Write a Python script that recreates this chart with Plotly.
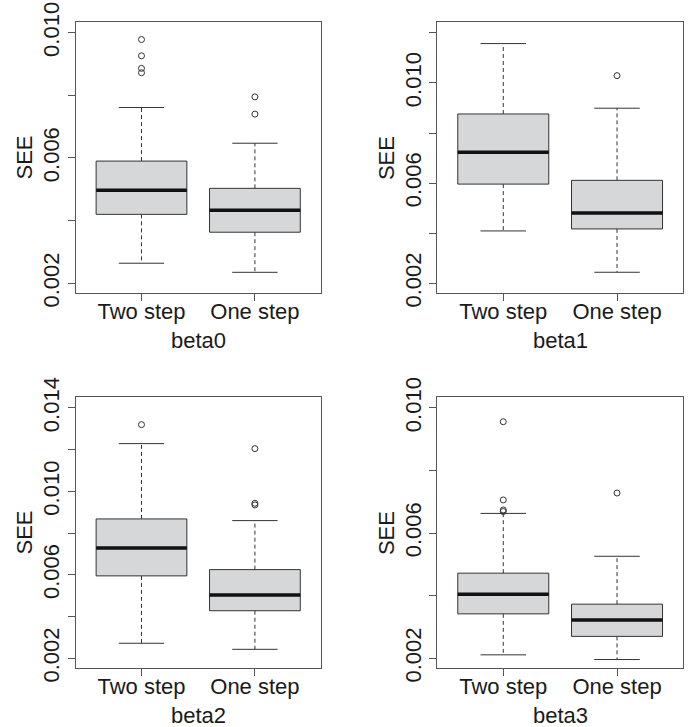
import plotly.graph_objects as go

# ---------------- data ----------------
categories = ["Two step", "One step"]
panel_labels = ["beta0", "beta1", "beta2", "beta3"]

whisker_low = [[0.00264, 0.00235], [0.00409, 0.00244], [0.00272, 0.00243], [0.00211, 0.00196]]
q1 = [[0.00420, 0.00363], [0.00596, 0.00417], [0.00595, 0.00428], [0.00342, 0.00270]]
median = [[0.00497, 0.00433], [0.00723, 0.00481], [0.00729, 0.00503], [0.00405, 0.00322]]
q3 = [[0.00590, 0.00503], [0.00876, 0.00611], [0.00868, 0.00625], [0.00472, 0.00373]]
whisker_high = [[0.00761, 0.00647], [0.01157, 0.00899], [0.01229, 0.00860], [0.00663, 0.00526]]
outliers = [
    [[0.00978, 0.00926, 0.00886, 0.00872], [0.00795, 0.00740]],
    [[], [0.01029]],
    [[0.01320], [0.01205, 0.00943, 0.00935]],
    [[0.00956, 0.00706, 0.00674, 0.00669], [0.00728]],
]
y_ranges = [[0.00168, 0.01033], [0.00160, 0.01242], [0.00152, 0.01451], [0.00168, 0.01034]]
tick_values = [
    [0.002, 0.004, 0.006, 0.008, 0.010],
    [0.002, 0.004, 0.006, 0.008, 0.010, 0.012],
    [0.002, 0.004, 0.006, 0.008, 0.010, 0.012, 0.014],
    [0.002, 0.004, 0.006, 0.008, 0.010],
]
tick_texts = [
    ["0.002", "", "0.006", "", "0.010"],
    ["0.002", "", "0.006", "", "0.010", ""],
    ["0.002", "", "0.006", "", "0.010", "", "0.014"],
    ["0.002", "", "0.006", "", "0.010"],
]

# ---------------- style ----------------
W, H = 697, 727
FONT = "Liberation Sans, Arial, Helvetica, sans-serif"
TXT = "#1a1a1a"
LINE = "#333333"
FRAME = "#555555"
FILL = "#d6d7d9"
FS = 22

# plot regions in pixels (left, right, top, bottom)
regions = [
    (75.7, 320.7, 22.3, 293.3),
    (437.3, 683.0, 22.3, 293.3),
    (75.7, 320.7, 397.3, 668.3),
    (437.3, 683.0, 397.3, 668.3),
]

fig = go.Figure()
positions = [1, 2]
bw = 0.8

for p in range(4):
    xa = "x" if p == 0 else f"x{p+1}"
    ya = "y" if p == 0 else f"y{p+1}"
    for i, c in enumerate(positions):
        # whiskers (dashed)
        fig.add_trace(go.Scatter(
            x=[c, c, None, c, c],
            y=[q3[p][i], whisker_high[p][i], None, q1[p][i], whisker_low[p][i]],
            mode="lines", line=dict(color=LINE, width=1, dash="4px,3px"),
            xaxis=xa, yaxis=ya, showlegend=False, hoverinfo="skip"))
        # staples
        fig.add_trace(go.Scatter(
            x=[c - bw / 4, c + bw / 4, None, c - bw / 4, c + bw / 4],
            y=[whisker_high[p][i], whisker_high[p][i], None, whisker_low[p][i], whisker_low[p][i]],
            mode="lines", line=dict(color=LINE, width=1),
            xaxis=xa, yaxis=ya, showlegend=False, hoverinfo="skip"))
        # box
        fig.add_trace(go.Box(
            x=[c], q1=[q1[p][i]], median=[median[p][i]], q3=[q3[p][i]],
            lowerfence=[q1[p][i]], upperfence=[q3[p][i]],
            width=bw, fillcolor=FILL, line=dict(color=LINE, width=1),
            boxpoints=False, whiskerwidth=0,
            xaxis=xa, yaxis=ya, showlegend=False, hoverinfo="skip"))
        # median
        fig.add_trace(go.Scatter(
            x=[c - bw / 2, c + bw / 2], y=[median[p][i], median[p][i]],
            mode="lines", line=dict(color="#111111", width=3.5),
            xaxis=xa, yaxis=ya, showlegend=False, hoverinfo="skip"))
        # outliers
        if outliers[p][i]:
            fig.add_trace(go.Scatter(
                x=[c] * len(outliers[p][i]), y=outliers[p][i],
                mode="markers",
                marker=dict(symbol="circle-open", size=6, color=LINE, line=dict(width=1, color=LINE)),
                xaxis=xa, yaxis=ya, showlegend=False, hoverinfo="skip"))

layout = dict(
    width=W, height=H,
    margin=dict(l=0, r=0, t=0, b=0, autoexpand=False),
    paper_bgcolor="white", plot_bgcolor="white",
    font=dict(family=FONT, size=FS, color=TXT),
    showlegend=False,
)

annotations = []
for p in range(4):
    L, R, T, B = regions[p]
    xkey = "xaxis" if p == 0 else f"xaxis{p+1}"
    ykey = "yaxis" if p == 0 else f"yaxis{p+1}"
    ya = "y" if p == 0 else f"y{p+1}"
    xa = "x" if p == 0 else f"x{p+1}"
    layout[xkey] = dict(
        domain=[L / W, R / W], anchor=ya, automargin=False,
        range=[0.42, 2.58], tickvals=positions, ticktext=categories,
        ticks="outside", ticklen=7, tickcolor=FRAME, tickwidth=1,
        ticklabelstandoff=-9,
        showline=True, linecolor=FRAME, linewidth=1, mirror=True,
        showgrid=False, zeroline=False,
        tickfont=dict(family=FONT, size=FS, color=TXT),
    )
    layout[ykey] = dict(
        domain=[1 - B / H, 1 - T / H], anchor=xa, automargin=False,
        range=y_ranges[p], tickvals=tick_values[p], ticktext=tick_texts[p],
        ticks="outside", ticklen=7, tickcolor=FRAME, tickwidth=1,
        tickangle=-90,
        showline=True, linecolor=FRAME, linewidth=1, mirror=True,
        showgrid=False, zeroline=False,
        tickfont=dict(family=FONT, size=FS, color=TXT),
    )
    # y title
    annotations.append(dict(
        text="SEE", x=(L - 51) / W, y=1 - ((T + B) / 2) / H,
        xref="paper", yref="paper", showarrow=False, textangle=-90,
        xanchor="center", yanchor="middle",
        font=dict(family=FONT, size=FS, color=TXT)))
    # x title
    annotations.append(dict(
        text=panel_labels[p], x=((L + R) / 2) / W, y=1 - (B + 47) / H,
        xref="paper", yref="paper", showarrow=False,
        xanchor="center", yanchor="middle",
        font=dict(family=FONT, size=FS, color=TXT)))

layout["annotations"] = annotations
fig.update_layout(**layout)
fig.write_html(
    "out.html",
    config={"displayModeBar": False},
    post_script="document.body.style.margin='0';document.body.style.overflow='hidden';",
)
